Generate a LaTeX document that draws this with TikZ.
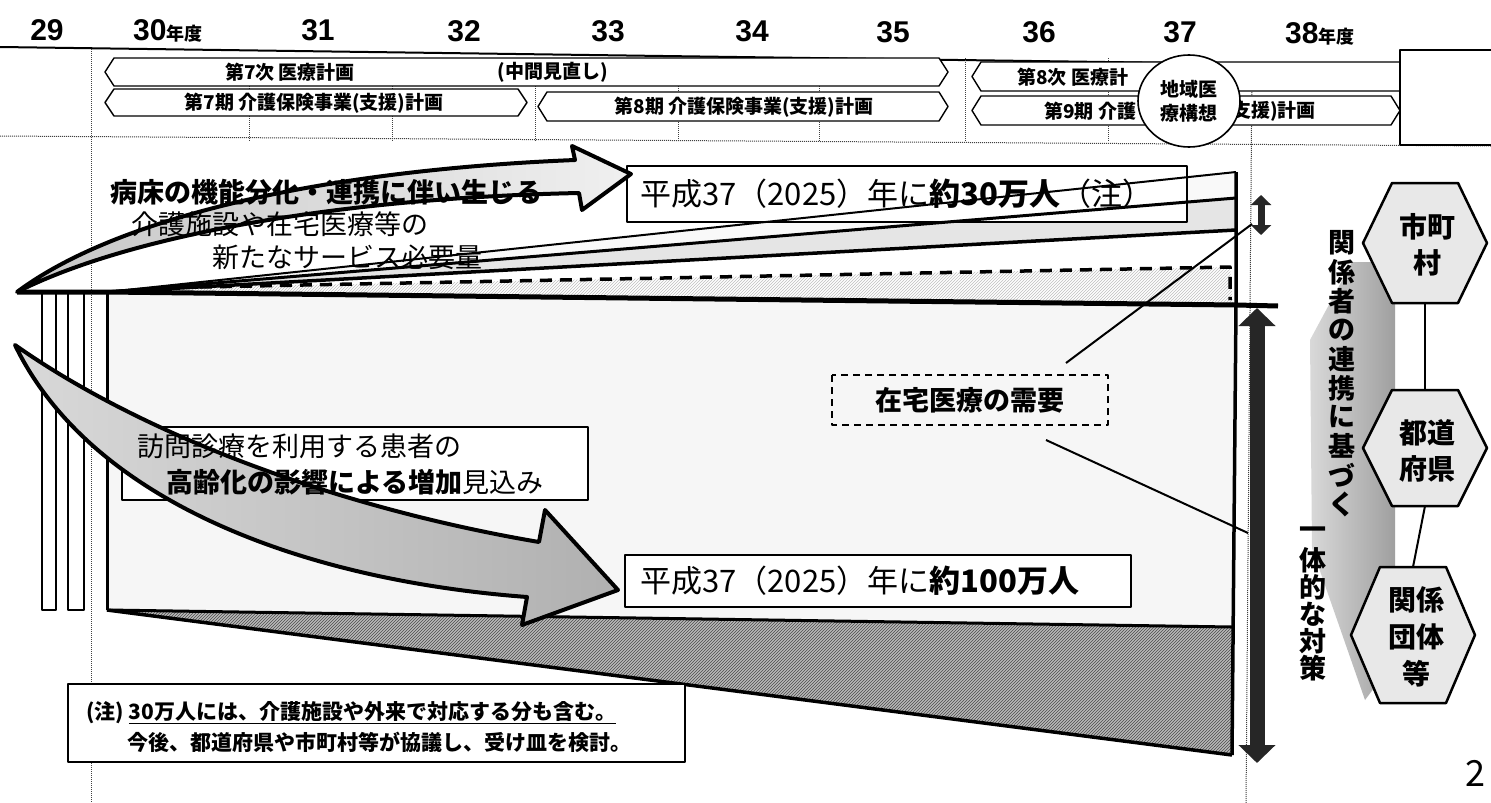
\documentclass[tikz,border=0pt]{standalone}
\usepackage{fontspec}
\setmainfont{Noto Sans CJK JP}
\newfontfamily\numfont{Liberation Sans}
\usetikzlibrary{patterns,arrows.meta,calc}
\newcommand\mkband[4]{%
  \draw[bandst] (#1,{(#3+#4)/2}) -- ({#1+9},#3) -- ({#2-9},#3) -- (#2,{(#3+#4)/2}) -- ({#2-9},#4) -- ({#1+9},#4) -- cycle;}
\newcommand\mkhex[4]{%
  \draw[hexst] ({#1-62},#2) -- ({#1-33},{#2-#3}) -- ({#1+33},{#2-#3}) -- ({#1+62},#2) -- ({#1+33},{#2+#3}) -- ({#1-33},{#2+#3}) -- cycle;
  \coordinate (#4n) at (#1,{#2-#3});
  \coordinate (#4s) at (#1,{#2+#3});}
\begin{document}
\begin{tikzpicture}[x=1pt,y=-1pt,line join=round,
  bandst/.style={draw=black,line width=1.4pt,fill=white},
  bandtx/.style={font=\bfseries\fontsize{19}{21}\selectfont,inner sep=0pt},
  yr/.style={font=\numfont\bfseries\fontsize{30}{32}\selectfont,inner sep=0pt},
  yrk/.style={font=\bfseries\fontsize{18}{19}\selectfont,inner sep=0pt},
  dotln/.style={draw=black!75,line width=1pt,dash pattern=on 1pt off 1pt},
  tx/.style={font=\fontsize{27}{29}\selectfont,inner sep=0pt},
  btx/.style={font=\bfseries\fontsize{27}{29}\selectfont,inner sep=0pt},
  bigtx/.style={font=\fontsize{31}{33}\selectfont,inner sep=0pt},
  boxst/.style={draw=black,line width=1.3pt,fill=white},
  hexst/.style={draw=black,line width=2.5pt,fill=gray!18},
  hextx/.style={font=\bfseries\fontsize{28}{36}\selectfont,align=center,inner sep=0pt},
  vt/.style={font=\bfseries\fontsize{27}{29}\selectfont,inner sep=0pt},
  notetx/.style={font=\bfseries\fontsize{21}{23}\selectfont,inner sep=0pt},
  ]
\useasboundingbox (0,0) rectangle (1491,803);
\fill[white] (0,0) rectangle (1491,803);

% ---------- year labels ----------
\node[yr,anchor=base] (y29) at (47,40) {29};
\node[yr,anchor=base west] (y30) at (133,40) {30};
\node[yrk,anchor=base west] (y30k) at (y30.base east) {年度};
\node[yr,anchor=base] (y31) at (318,40) {31};
\node[yr,anchor=base] (y32) at (464,41) {32};
\node[yr,anchor=base] (y33) at (608,41) {33};
\node[yr,anchor=base] (y34) at (752,41) {34};
\node[yr,anchor=base] (y35) at (893,42) {35};
\node[yr,anchor=base] (y36) at (1039,42) {36};
\node[yr,anchor=base] (y37) at (1180,42) {37};
\node[yr,anchor=base west] (y38) at (1285,43) {38};
\node[yrk,anchor=base west] (y38k) at (y38.base east) {年度};

% ---------- timeline frame ----------
\draw[line width=2pt] (0,47) -- (1400,66);
\draw[dotln] (0,136) -- (1491,146);
\draw[dotln] (91,49) -- (91,803);
\draw[dotln] (1252,64) -- (1246,803);
\foreach \x in {249,392,535,678,819,965,1108} \draw[dotln] (\x,58) -- (\x,141);

\mkband{105}{948}{58}{86}
\mkband{105}{527}{89}{116}
\mkband{538}{948}{92}{121}
\mkband{972}{1412}{62}{91}
\mkband{972}{1400}{96}{125}

\node[bandtx] (b7a) at (290,72) {第7次\ 医療計画};
\node[bandtx] (b7m) at (553,72) {(中間見直し)};
\node[bandtx] (b7b) at (314,103) {第7期\ 介護保険事業(支援)計画};
\node[bandtx] (b8b) at (744,107) {第8期\ 介護保険事業(支援)計画};
\node[bandtx,anchor=west] (b8a) at (1017,77) {第8次\ 医療計};
\node[bandtx,anchor=west] (b9b) at (1044,111) {第9期\ 介護};
\node[bandtx,anchor=east] (b9c) at (1316,111) {(支援)計画};

\draw[line width=1.5pt,fill=white] (1491,50) -- (1400,50) -- (1400,145) -- (1491,145);
\draw[line width=1.6pt,fill=white] (1189,101) ellipse [x radius=51pt, y radius=46pt];
\node[font=\bfseries\fontsize{19}{24}\selectfont,align=center,inner sep=0pt] (cir) at (1189,101) {地域医\\療構想};

% ---------- main chart fills ----------
\fill[gray!7] (107,292) -- (1233,305) -- (1233,627) -- (107,610) -- cycle;
\fill[gray!5] (107,292) -- (1236,172) -- (1236,198) -- cycle;
\fill[gray!20] (107,292) -- (1236,198) -- (1236,230) -- cycle;
\fill[white] (107,292) -- (1236,230) -- (1230,267) -- (200,287) -- cycle;
\fill[pattern=north east lines,pattern color=gray!50] (200,287) -- (1230,267) -- (1233,305) -- (107,292) -- cycle;

% 30万人 box
\draw[boxst] (627,166) rectangle (1187,222);
\node[bigtx,anchor=west] (t30) at (640,194) {平成37（2025）年に\textbf{約30万人}（注）};

% bars on the left
\draw[line width=2.5pt,fill=white] (42,292) rectangle (56,610);
\draw[line width=2.5pt,fill=white] (68,292) rectangle (84,610);
\draw[line width=3pt] (107,292) -- (107,610);

% fan lines
\draw[line width=2pt] (107,292) -- (1236,172);
\draw[line width=3pt] (107,292) -- (1236,198);
\draw[line width=3.5pt] (107,292) -- (1236,230);
\draw[line width=3.5pt,dash pattern=on 12pt off 8pt] (200,287) -- (1230,267) -- (1230,300);
\draw[line width=5pt] (17,292) -- (107,292) -- (1236,305) -- (1278,306);

% lower hatched region
\fill[gray!55] (107,610) -- (1232,627) -- (1232,755) -- cycle;
\fill[pattern=north east lines,pattern color=black!70] (107,610) -- (1232,627) -- (1232,755) -- cycle;
\draw[line width=3pt] (107,610) -- (1232,627);
\draw[line width=3.5pt] (107,610) -- (1232,755);
\draw[line width=3.5pt] (1236,172) -- (1236,305) -- (1232,755);

% upper curved arrow
\draw[line width=4pt,left color=gray!45,right color=gray!12]
  (17,292) .. controls (120,215) and (330,170) .. (575,160) -- (572,146) -- (631,174)
  -- (582,210) -- (579,193) .. controls (340,198) and (130,235) .. (17,292) -- cycle;
\node[btx] (ar1) at (326,192) {病床の機能分化・連携に伴い生じる};
\node[tx] (ar2) at (280,224) {介護施設や在宅医療等の};
\node[tx] (ar3) at (347,257) {新たなサービス必要量};

% box: visiting care
\draw[boxst] (122,427) rectangle (588,500);
\draw[line width=4pt,left color=gray!30,right color=gray!62]
  (15,345) .. controls (150,440) and (350,510) .. (539,542) -- (545,510) -- (618,590)
  -- (522,625) -- (527,597) .. controls (300,580) and (90,500) .. (15,345) -- cycle;
\node[tx,anchor=west] (hv1) at (137,446) {訪問診療を利用する患者の};
\node[tx,anchor=west] (hv2) at (166,482) {\textbf{高齢化の影響による増加}見込み};

% 100万人 box
\draw[boxst] (625,555) rectangle (1131,607);
\node[bigtx,anchor=west] (t100) at (640,581) {平成37（2025）年に\textbf{約100万人}};

% demand box and leader lines
\draw[line width=2.5pt,dash pattern=on 7pt off 5pt] (832,375) rectangle (1108,425);
\node[btx] (dem) at (970,400) {在宅医療の需要};
\coordinate (dmTop) at (1066,363);
\coordinate (dmBot) at (1046,440);
\coordinate (saFoot) at (1252,224);
\coordinate (bgMid) at (1248,533);
\draw[line width=2pt] (saFoot) -- (dmTop);
\draw[line width=2pt] (dmBot) -- (bgMid);

% double arrows
\draw[line width=7pt,draw=black!85,{Triangle[length=10pt,width=20pt]}-{Triangle[length=10pt,width=20pt]}] (1261,195) -- (1261,235);
\draw[line width=15pt,draw=black!85,{Triangle[length=18pt,width=36pt]}-{Triangle[length=18pt,width=36pt]}] (1257,308) -- (1257,763);

% note box
\draw[line width=1.2pt,fill=white] (68,684) rectangle (685,762);
\node[notetx,anchor=west] (n1) at (86,713) {(注)\ \underline{30万人には、介護施設や外来で対応する分も含む。}};
\node[notetx,anchor=west] (n2) at (127,742) {今後、都道府県や市町村等が協議し、受け皿を検討。};

% ---------- right side ----------
\shade[left color=gray!30,right color=gray!75] (1310,340) -- (1352,262) -- (1395,262) -- (1395,660) -- (1365,700) -- (1312,548) -- cycle;
\mkhex{1425}{243}{60}{ha}
\mkhex{1425}{448}{58}{hb}
\mkhex{1413}{635}{68}{hc}
\draw[line width=2pt] (has) -- (hbn);
\draw[line width=2pt] (hbs) -- (hcn);
\node[hextx] (tx1) at (1427,245) {市町\\村};
\node[hextx] (tx2) at (1427,451) {都道\\府県};
\node[hextx,font=\bfseries\fontsize{28}{37}\selectfont] (tx3) at (1416,637) {関係\\団体\\等};
\foreach \c [count=\i from 0] in {関,係,者,の,連,携,に,基,づ,く}
  \node[vt] (va\i) at (1342,{243+29*\i}) {\c};
\foreach \c [count=\i from 0] in {一,体,的,な,対,策}
  \node[vt] (vb\i) at (1313,{533+27*\i}) {\c};

\node[font=\fontsize{36}{40}\selectfont,inner sep=0pt] (pg) at (1475,773) {2};
\end{tikzpicture}
\end{document}
